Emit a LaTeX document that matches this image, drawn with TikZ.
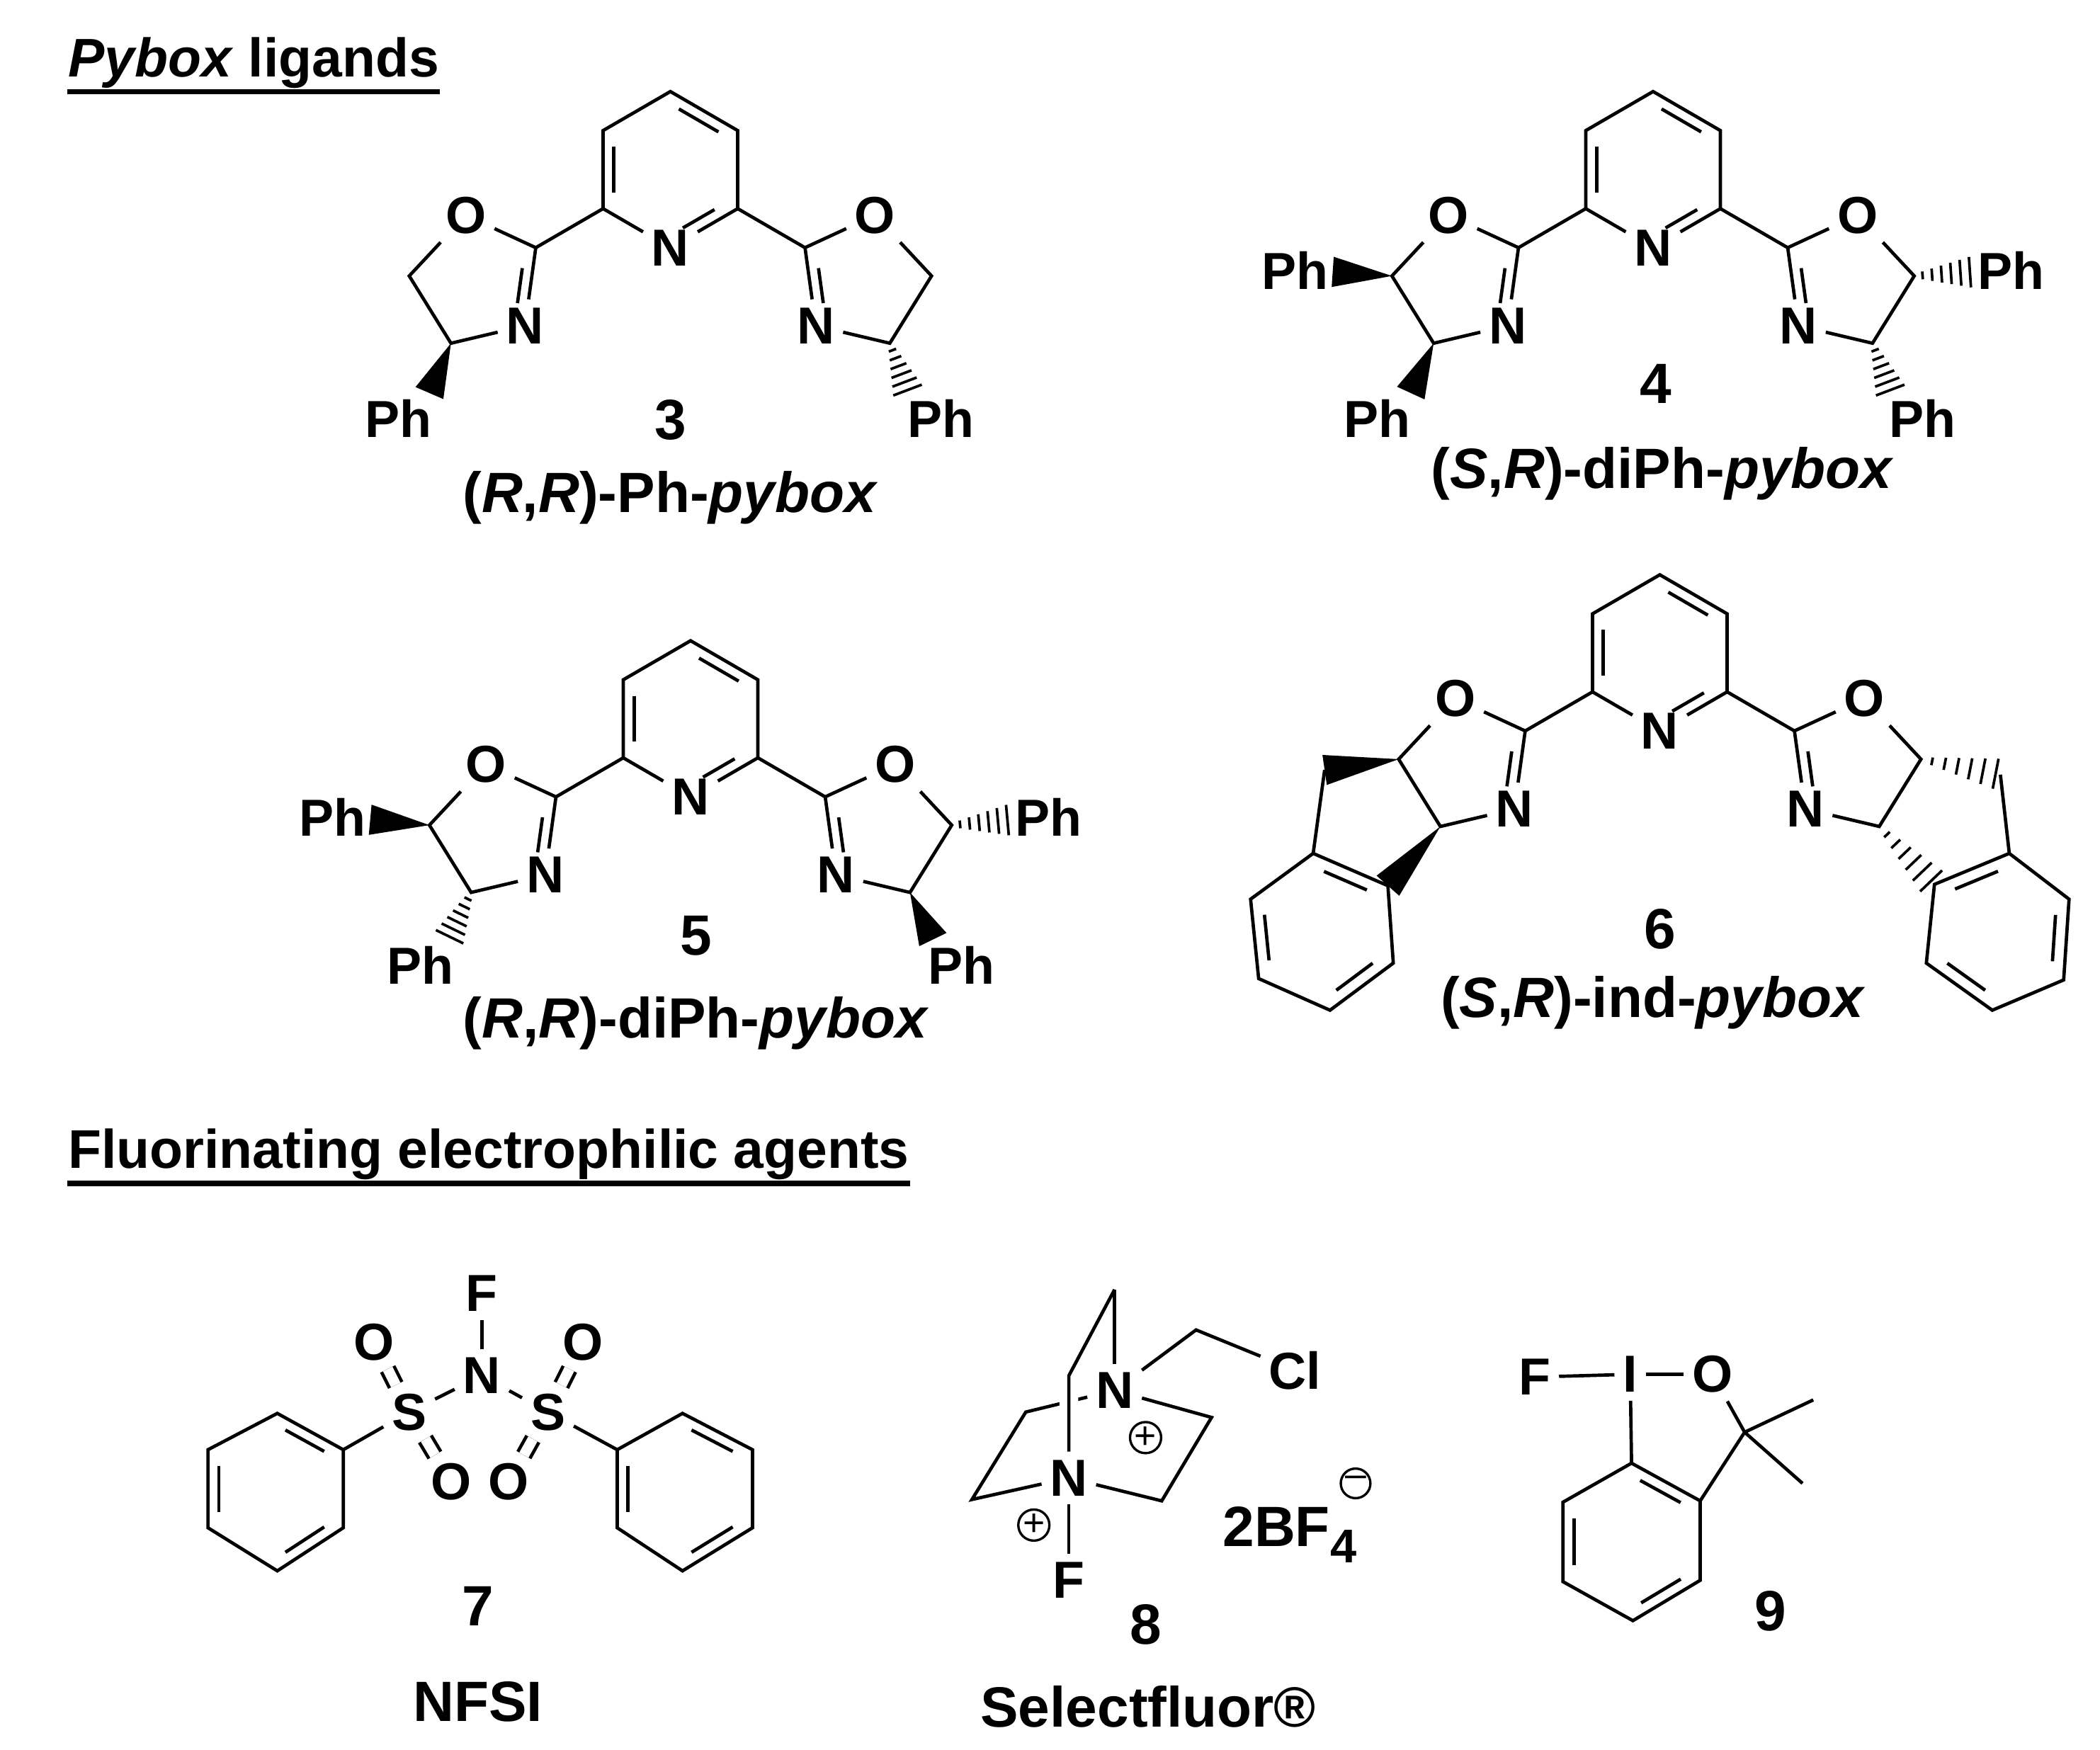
\documentclass[tikz,border=0pt]{standalone}
\usepackage{fontspec}
\setmainfont{Liberation Sans}
\usetikzlibrary{calc}
\tikzset{
 atom/.style={font=\fontsize{11}{12}\selectfont\bfseries, inner sep=1.6pt},
 lbl/.style={font=\fontsize{12}{14}\selectfont\bfseries, inner sep=0pt},
 head/.style={font=\fontsize{11.5}{13}\selectfont\bfseries, inner sep=0pt, anchor=base west},
 chg/.style={circle, draw, line width=0.5pt, inner sep=0pt, minimum size=0.22cm, font=\fontsize{8}{8}\selectfont},
 bond/.style={line width=0.7pt},
}
\newcommand{\innerb}[5]{\draw[bond] ($($(#1)!#4!(#2)$)!#5!(#3)$) -- ($($(#2)!#4!(#1)$)!#5!(#3)$);}
\newcommand{\wedgeb}[2]{\fill (#1) -- ($(#2)!3.2pt!90:(#1)$) -- ($(#2)!3.2pt!-90:(#1)$) -- cycle;}
\newcommand{\hashb}[2]{\foreach \t in {0.14,0.3,0.46,0.62,0.78,0.94}{%
  \pgfmathsetmacro\w{0.4+\t*3}%
  \coordinate (hh) at ($(#1)!\t!(#2)$);
  \draw[line width=0.55pt] ($(hh)!\w pt!90:(#2)$) -- ($(hh)!\w pt!-90:(#2)$);}}
\newcommand{\core}[1]{%
 \node[atom] (#1N) at (0,0) {N};
 \coordinate (#1LR) at (50,-29); \coordinate (#1UR) at (50,-87); \coordinate (#1T) at (0,-116);
 \coordinate (#1UL) at (-50,-87); \coordinate (#1LL) at (-50,-29); \coordinate (#1pc) at (0,-58);
 \coordinate (#1C2L) at (-100,0); \node[atom] (#1OL) at (-152,-24) {O};
 \coordinate (#1C5L) at (-194,21); \coordinate (#1C4L) at (-163,71);
 \node[atom] (#1NL) at (-108,58) {N}; \coordinate (#1oL) at (-143,25);
 \coordinate (#1C2R) at (100,0); \node[atom] (#1OR) at (152,-24) {O};
 \coordinate (#1C5R) at (194,21); \coordinate (#1C4R) at (163,71);
 \node[atom] (#1NR) at (108,58) {N}; \coordinate (#1oR) at (143,25);
 \draw[bond] (#1LL) -- (#1N) -- (#1LR) -- (#1UR) -- (#1T) -- (#1UL) -- (#1LL);
 \innerb{#1UL}{#1LL}{#1pc}{.15}{.16}
 \innerb{#1T}{#1UR}{#1pc}{.15}{.16}
 \innerb{#1LR}{#1N.center}{#1pc}{.22}{.16}
 \draw[bond] (#1LL) -- (#1C2L) -- (#1OL) -- (#1C5L) -- (#1C4L) -- (#1NL) -- (#1C2L);
 \draw[bond] (#1LR) -- (#1C2R) -- (#1OR) -- (#1C5R) -- (#1C4R) -- (#1NR) -- (#1C2R);
 \innerb{#1C2L}{#1NL.center}{#1oL}{.22}{.2}
 \innerb{#1C2R}{#1NR.center}{#1oR}{.22}{.2}
}
\begin{document}
\begin{tikzpicture}[x=0.01cm,y=-0.01cm]
\useasboundingbox (0,0) rectangle (1560,1300);
% headings
\node[head] (h1) at (50,57) {\textit{Pybox} ligands};
\draw[line width=1.1pt] ([yshift=-3.2pt]h1.base west) -- ([yshift=-3.2pt]h1.base east);
\node[head] (h2) at (50,868) {Fluorinating electrophilic agents};
\draw[line width=1.1pt] ([yshift=-3.2pt]h2.base west) -- ([yshift=-3.2pt]h2.base east);

% ---------- compound 3
\begin{scope}[shift={(498,184)}]
\core{a}
\coordinate (aw1) at (-179,108); \node[atom] (aPh1) at (-202,127) {Ph};
\coordinate (aw2) at (177,108); \node[atom] (aPh2) at (201,127) {Ph};
\wedgeb{aC4L}{aw1} \hashb{aC4R}{aw2}
\node[lbl] (a3) at (0,128) {3};
\node[lbl] (an) at (0,186) {(\textit{R},\textit{R})-Ph-\textit{pybox}};
\end{scope}

% ---------- compound 4
\begin{scope}[shift={(1228,184)}]
\core{b}
\coordinate (bw1) at (-238,18); \node[atom] (bPh1) at (-266,17) {Ph};
\coordinate (bw2) at (-180,108); \node[atom] (bPh2) at (-205,127) {Ph};
\coordinate (bw3) at (238,18); \node[atom] (bPh3) at (266,17) {Ph};
\coordinate (bw4) at (177,108); \node[atom] (bPh4) at (200,127) {Ph};
\wedgeb{bC5L}{bw1} \wedgeb{bC4L}{bw2} \hashb{bC5R}{bw3} \hashb{bC4R}{bw4}
\node[lbl] (b4) at (2,101) {4};
\node[lbl] (bn) at (7,168) {(\textit{S},\textit{R})-diPh-\textit{pybox}};
\end{scope}

% ---------- compound 5
\begin{scope}[shift={(513,592)}]
\core{c}
\coordinate (cw1) at (-238,17); \node[atom] (cPh1) at (-266,15) {Ph};
\coordinate (cw2) at (-180,106); \node[atom] (cPh2) at (-201,125) {Ph};
\coordinate (cw3) at (238,17); \node[atom] (cPh3) at (266,15) {Ph};
\coordinate (cw4) at (180,106); \node[atom] (cPh4) at (201,125) {Ph};
\wedgeb{cC5L}{cw1} \hashb{cC4L}{cw2} \hashb{cC5R}{cw3} \wedgeb{cC4R}{cw4}
\node[lbl] (c5) at (4,103) {5};
\node[lbl] (cn) at (4,168) {(\textit{R},\textit{R})-diPh-\textit{pybox}};
\end{scope}

% ---------- compound 6
\begin{scope}[shift={(1233,543)}]
\core{d}
\node[lbl] (d6) at (0,147) {6};
\node[lbl] (dn) at (-5,202) {(\textit{S},\textit{R})-ind-\textit{pybox}};
\end{scope}
\coordinate (dm1) at (984,572); \coordinate (dk1) at (975.5,634); \coordinate (dk2) at (1031,658);
\coordinate (dk3) at (1035,715.5); \coordinate (dk4) at (988,750.5); \coordinate (dk5) at (935,727); \coordinate (dk6) at (929,668);
\coordinate (dkc) at (982,692);
\wedgeb{dC5L}{dm1} \wedgeb{dC4L}{dk2}
\draw[bond] (dm1) -- (dk1) -- (dk2) -- (dk3) -- (dk4) -- (dk5) -- (dk6) -- (dk1);
\innerb{dk1}{dk2}{dkc}{.15}{.18} \innerb{dk3}{dk4}{dkc}{.15}{.18} \innerb{dk5}{dk6}{dkc}{.15}{.18}
\coordinate (dm2) at (1486,575.5); \coordinate (dj1) at (1492.6,634); \coordinate (dj2) at (1537,668);
\coordinate (dj3) at (1533,728); \coordinate (dj4) at (1480,750.5); \coordinate (dj5) at (1431,715.5); \coordinate (dj6) at (1437,657);
\coordinate (djc) at (1484,692);
\hashb{dC5R}{dm2} \hashb{dC4R}{dj6}
\draw[bond] (dm2) -- (dj1) -- (dj2) -- (dj3) -- (dj4) -- (dj5) -- (dj6) -- (dj1);
\innerb{dj1}{dj6}{djc}{.15}{.18} \innerb{dj2}{dj3}{djc}{.15}{.18} \innerb{dj4}{dj5}{djc}{.15}{.18}

% ---------- compound 7 NFSI
\node[atom] (eF) at (358,961) {F};
\node[atom] (eN) at (358,1022) {N};
\node[atom] (eS1) at (304,1049) {S};
\node[atom] (eS2) at (407,1049) {S};
\node[atom] (eO1) at (278,997) {O};
\node[atom] (eO2) at (433,997) {O};
\node[atom] (eO3) at (335,1101) {O};
\node[atom] (eO4) at (378,1101) {O};
\draw[bond] (eF) -- (eN); \draw[bond] (eN) -- (eS1); \draw[bond] (eN) -- (eS2);
\foreach \a/\b in {eS1/eO1,eS1/eO3,eS2/eO2,eS2/eO4}{\draw[bond, double, double distance=2.2pt] (\a) -- (\b);}
\coordinate (ep1) at (255,1077); \coordinate (ep2) at (206,1050); \coordinate (ep3) at (154.5,1077);
\coordinate (ep4) at (154.5,1135); \coordinate (ep5) at (206,1167); \coordinate (ep6) at (255,1135); \coordinate (epc) at (205,1106);
\draw[bond] (eS1) -- (ep1) -- (ep2) -- (ep3) -- (ep4) -- (ep5) -- (ep6) -- (ep1);
\innerb{ep1}{ep2}{epc}{.15}{.16} \innerb{ep3}{ep4}{epc}{.15}{.16} \innerb{ep5}{ep6}{epc}{.15}{.16}
\coordinate (eq1) at (458.5,1077); \coordinate (eq2) at (507,1050); \coordinate (eq3) at (559,1077);
\coordinate (eq4) at (559,1135); \coordinate (eq5) at (507,1167); \coordinate (eq6) at (458.5,1135); \coordinate (eqc) at (508,1106);
\draw[bond] (eS2) -- (eq1) -- (eq2) -- (eq3) -- (eq4) -- (eq5) -- (eq6) -- (eq1);
\innerb{eq2}{eq3}{eqc}{.15}{.16} \innerb{eq6}{eq1}{eqc}{.15}{.16} \innerb{eq4}{eq5}{eqc}{.15}{.16}
\node[lbl] (e7) at (355,1193) {7};
\node[lbl] (en) at (355,1264) {NFSI};

% ---------- compound 8 Selectfluor
\node[atom] (fN1) at (828,1033) {N};
\node[atom] (fN2) at (794,1098) {N};
\coordinate (ft) at (828,958); \coordinate (fx) at (794,1022);
\coordinate (fc) at (888.5,988); \node[atom] (fCl) at (962,1018) {Cl};
\coordinate (fl1) at (762,1049); \coordinate (fl2) at (722,1114);
\coordinate (fr1) at (900,1053); \coordinate (fr2) at (863,1115);
\node[atom] (fF) at (794,1174) {F};
\draw[bond] (fN1) -- (fl1) -- (fl2) -- (fN2);
\draw[bond] (fN1) -- (fr1) -- (fr2) -- (fN2);
\draw[bond] (fN1) -- (ft);
\draw[bond, preaction={draw, white, line width=4pt, shorten <=6pt}] (ft) -- (fx) -- (fN2);
\draw[bond] (fN1) -- (fc) -- (fCl);
\draw[bond] (fN2) -- (fF);
\node[chg] (fp1) at (851,1068) {+};
\node[chg] (fp2) at (768,1133) {+};
\node[lbl] (fB) at (958,1140) {2BF\raisebox{-0.55ex}{\fontsize{10}{10}\selectfont 4}};
\node[chg] (fm) at (1007,1102) {\raisebox{0.2ex}{--}};
\node[lbl] (f8) at (851,1207) {8};
\node[lbl] (fn) at (853,1268) {Selectfluor®};

% ---------- compound 9
\node[atom] (gF) at (1140,1023) {F};
\node[atom] (gI) at (1211,1021) {I};
\node[atom] (gO) at (1272,1021) {O};
\coordinate (gr1) at (1212,1087); \coordinate (gr2) at (1263,1115); \coordinate (gr3) at (1263,1174);
\coordinate (gr4) at (1213,1204); \coordinate (gr5) at (1161,1175); \coordinate (gr6) at (1161,1116); \coordinate (grc) at (1212,1145);
\coordinate (gq) at (1296,1064); \coordinate (gm1) at (1347,1040); \coordinate (gm2) at (1339,1102);
\draw[bond] (gF) -- (gI); \draw[bond] (gI) -- (gO);
\draw[bond] (gI) -- (gr1) -- (gr2) -- (gr3) -- (gr4) -- (gr5) -- (gr6) -- (gr1);
\draw[bond] (gr2) -- (gq) -- (gO); \draw[bond] (gq) -- (gm1); \draw[bond] (gq) -- (gm2);
\innerb{gr1}{gr2}{grc}{.15}{.16} \innerb{gr5}{gr6}{grc}{.15}{.16} \innerb{gr3}{gr4}{grc}{.15}{.16}
\node[lbl] (g9) at (1315,1197) {9};
\end{tikzpicture}
\end{document}
